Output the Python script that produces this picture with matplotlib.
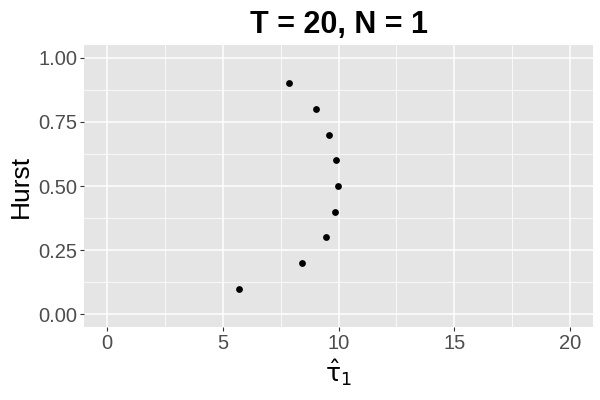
import matplotlib
matplotlib.use("Agg")
import matplotlib.pyplot as plt
from matplotlib.ticker import MultipleLocator

plt.rcParams['font.family'] = ['Liberation Sans', 'DejaVu Sans']
plt.rcParams['mathtext.fontset'] = 'custom'
plt.rcParams['mathtext.rm'] = 'DejaVu Sans'
plt.rcParams['mathtext.it'] = 'DejaVu Sans'

hurst = [0.1, 0.2, 0.3, 0.4, 0.5, 0.6, 0.7, 0.8, 0.9]
tau_hat = [5.69, 8.43, 9.47, 9.87, 9.99, 9.90, 9.60, 9.03, 7.85]
xticks = [0, 5, 10, 15, 20]
yticks = [0.00, 0.25, 0.50, 0.75, 1.00]
ytick_labels = ["0.00", "0.25", "0.50", "0.75", "1.00"]

fig = plt.figure(figsize=(6, 4), dpi=100)
ax = fig.add_axes([84/600, 1 - 327/400, (593-84)/600, (327-45)/400])
ax.set_facecolor('#E5E5E5')
ax.scatter(tau_hat, hurst, s=24, color='black', zorder=3, linewidths=0)

ax.set_xlim(-1, 21)
ax.set_ylim(-0.05, 1.05)
ax.set_xticks(xticks)
ax.set_xticklabels([str(t) for t in xticks])
ax.set_yticks(yticks)
ax.set_yticklabels(ytick_labels)
ax.xaxis.set_minor_locator(MultipleLocator(2.5))
ax.yaxis.set_minor_locator(MultipleLocator(0.125))
ax.grid(which='major', color='white', linewidth=1.1)
ax.grid(which='minor', color='white', linewidth=0.55)
ax.set_axisbelow(True)
for s in ax.spines.values():
    s.set_visible(False)
ax.tick_params(which='major', length=3, width=0.8, color='#333333',
               labelsize=14.5, labelcolor='#4D4D4D', pad=2)
ax.tick_params(which='minor', length=0)

ax.set_xlabel(r'$\hat{\mathrm{\tau}}_1$', fontsize=18, labelpad=3)
ax.set_ylabel('Hurst', fontsize=19, labelpad=4)
ax.set_title('T = 20, N = 1', fontsize=22, fontweight='bold', pad=9)

fig.savefig('out.png', dpi=100)
